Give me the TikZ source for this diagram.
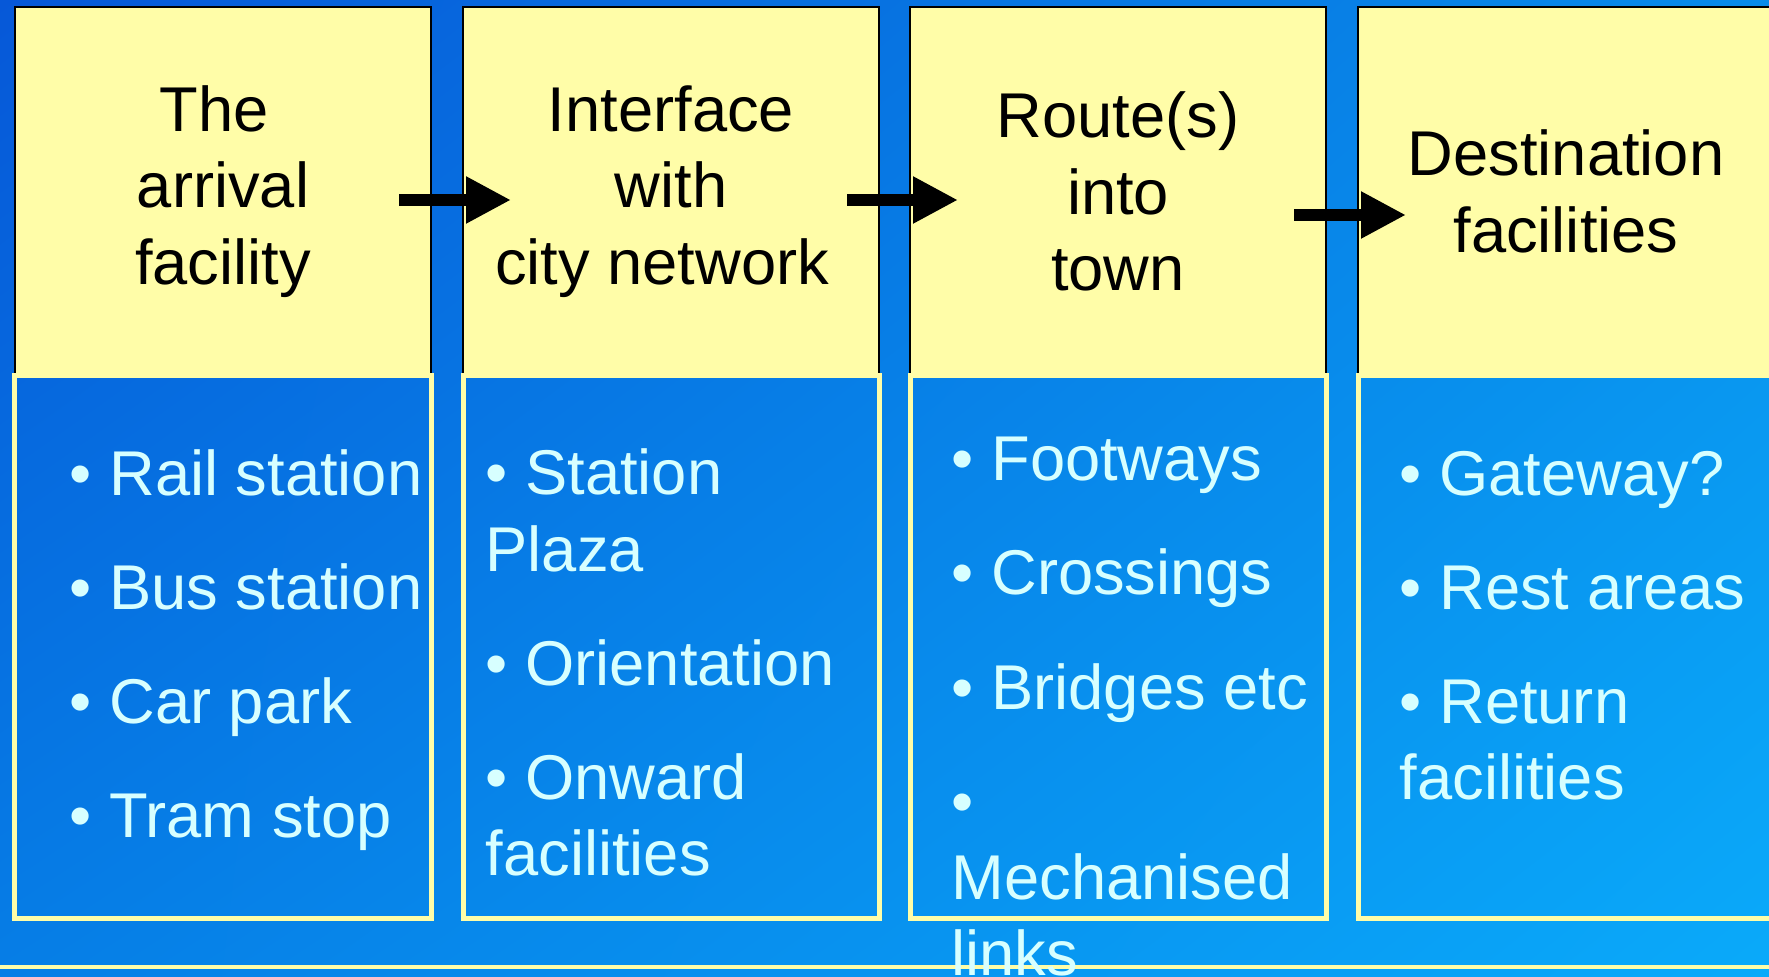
\documentclass[tikz,border=0pt]{standalone}
\usepackage{fontspec}
\setmainfont{Liberation Sans}
\usetikzlibrary{arrows.meta,shadings}

\definecolor{pale}{RGB}{255,253,168}
\definecolor{itemtext}{RGB}{215,255,255}
\definecolor{bgtl}{RGB}{6,88,216}
\definecolor{bgtr}{RGB}{8,140,234}
\definecolor{bgbl}{RGB}{6,126,230}
\definecolor{bgbr}{RGB}{10,170,250}

\begin{document}
\begin{tikzpicture}[ heading/.style={rectangle,draw=black,line width=0.6pt,fill=pale,
        minimum width=4.16cm,minimum height=3.69cm,outer sep=0pt,anchor=north west,
        align=center,font={\fontsize{18}{21.7}\selectfont}},
    panel/.style={rectangle,draw=pale,line width=0.05cm,outer sep=0pt,
        minimum width=4.16cm,minimum height=5.43cm,anchor=north west},
    items/.style={text=itemtext,inner sep=0pt,anchor=base west,align=left,
        font={\fontsize{18}{21.7}\selectfont}},
    flow/.style={line width=0.12cm,-{Triangle[length=0.45cm,width=0.44cm]}}]
\useasboundingbox (0,0) rectangle (17.69,-9.77);
\shade[upper left=bgtl,upper right=bgtr,lower left=bgbl,lower right=bgbr]
    (0,0) rectangle (17.69,-9.77);

\node[heading] (top1) at (0.15,-0.07) {The\rule{0.28em}{0pt}\\arrival\\facility};
\node[heading] (top2) at (4.63,-0.07) {Interface\\with\\city network\rule{0.28em}{0pt}};
\node[heading] (top3) at (9.10,-0.07) {Route(s)\\into\\town};
\node[heading] (top4) at (13.58,-0.07) {Destination\\facilities};

\node[panel] (box1) at (0.15,-3.76) {};
\node[panel] (box2) at (4.63,-3.76) {};
\node[panel] (box3) at (9.10,-3.76) {};
\node[panel] (box4) at (13.58,-3.76) {};

\draw[pale,line width=0.045cm] (0,-9.67)--(17.69,-9.67);

\draw[flow] ([shift={(-0.32,-0.085)}]top1.east)--([shift={(0.48,-0.085)}]top2.west);
\draw[flow] ([shift={(-0.32,-0.085)}]top2.east)--([shift={(0.48,-0.085)}]top3.west);
\draw[flow] ([shift={(-0.32,-0.235)}]top3.east)--([shift={(0.48,-0.235)}]top4.west);

% lists sit on the baseline of their last line
\node[items] (list1) at (0.69,-8.38) {• Rail station\\[0.38cm]• Bus station\\[0.38cm]• Car park\\[0.38cm]• Tram stop};
\node[items] (list2) at (4.85,-8.76) {• Station\\Plaza\\[0.38cm]• Orientation\\[0.38cm]• Onward\\facilities};
\node[items] (list3) at (9.51,-9.76) {• Footways\\[0.38cm]• Crossings\\[0.38cm]• Bridges etc\\[0.38cm]•\\Mechanised\\links};
\node[items] (list4) at (13.99,-8.00) {• Gateway?\\[0.38cm]• Rest areas\\[0.38cm]• Return\\facilities};

\end{tikzpicture}
\end{document}
